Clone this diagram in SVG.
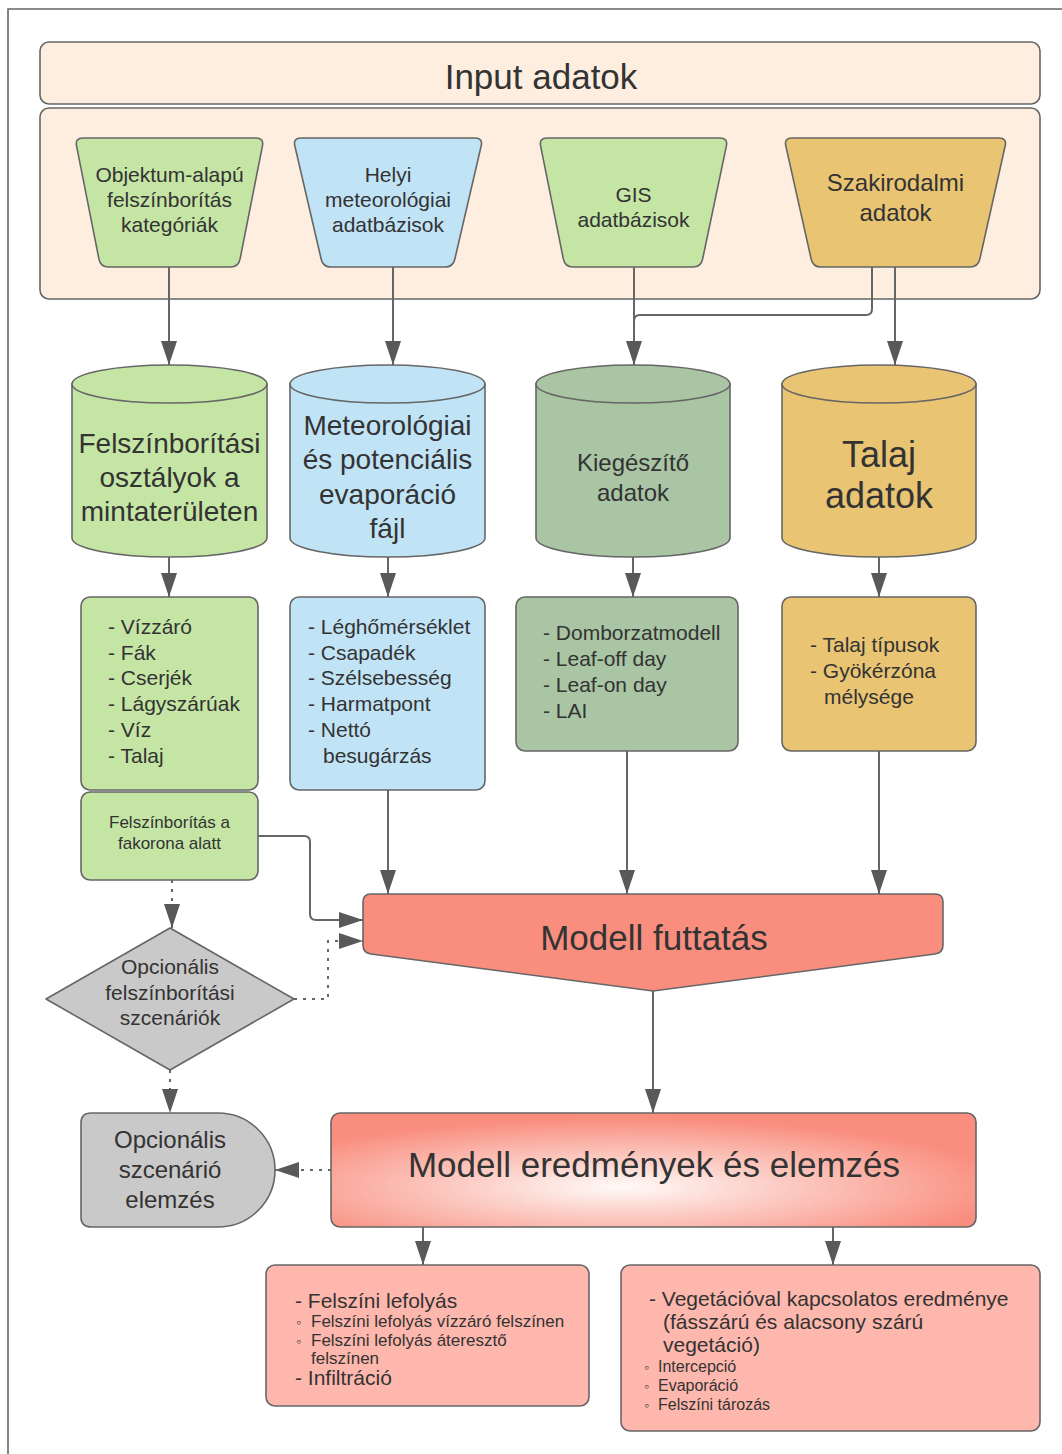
<svg xmlns="http://www.w3.org/2000/svg" width="1062" height="1454" viewBox="0 0 1062 1454">
<defs>
<style>
text{font-family:"Liberation Sans",Arial,"DejaVu Sans",sans-serif;fill:#333;}
.c{text-anchor:middle;}
.sh{stroke:#666;stroke-width:1.6;}
.peach{fill:#feeedf;}
.green{fill:#c5e5a5;}
.blue{fill:#c1e3f6;}
.gold{fill:#e9c473;}
.sage{fill:#a9c5a3;}
.grey{fill:#c9c9c9;}
.salmon{fill:#f98e7f;}
.pink{fill:#feb7ad;}
.ln{fill:none;stroke:#666;stroke-width:2;}
.dot{fill:none;stroke:#666;stroke-width:2;stroke-dasharray:3 6;}
.bul{font-size:14px;}
</style>
<marker id="ah" viewBox="0 0 24 16" refX="24" refY="8" markerWidth="24" markerHeight="16" markerUnits="userSpaceOnUse" orient="auto">
<path d="M0,0 L24,8 L0,16 Z" fill="#595959"/>
</marker>
<radialGradient id="rg" cx="0.45" cy="0.65" r="0.6">
<stop offset="0" stop-color="#fffaf8"/>
<stop offset="0.35" stop-color="#fcd3cc"/>
<stop offset="1" stop-color="#f98e7f"/>
</radialGradient>
</defs>
<rect width="1062" height="1454" fill="#fff"/>
<path d="M8,1454 V9 H1062" fill="none" stroke="#666" stroke-width="1.6"/>

<g id="input-header">
<rect x="40" y="42" width="1000" height="62" rx="9" class="peach sh"/>
<text x="541" y="89" class="c" font-size="35">Input adatok</text>
</g>
<g id="input-container">
<rect x="40" y="108" width="1000" height="191" rx="9" class="peach sh"/>
</g>

<g id="src-objektum">
<path d="M83,138 H256 Q264,138 262.45,145.85 L240.05,259.15 Q238.5,267 230.5,267 H108.5 Q100.5,267 98.95,259.15 L76.55,145.85 Q75,138 83,138 Z" class="green sh"/>
<text class="c" font-size="21"><tspan x="169.5" y="182">Objektum-alapú</tspan><tspan x="169.5" y="207">felszínborítás</tspan><tspan x="169.5" y="232">kategóriák</tspan></text>
</g>
<g id="src-helyi">
<path d="M301,138 H475 Q483,138 481.2,145.8 L454.8,259.2 Q453,267 445,267 H331 Q323,267 321.2,259.2 L294.8,145.8 Q293,138 301,138 Z" class="blue sh"/>
<text class="c" font-size="21"><tspan x="388" y="182">Helyi</tspan><tspan x="388" y="207">meteorológiai</tspan><tspan x="388" y="232">adatbázisok</tspan></text>
</g>
<g id="src-gis">
<path d="M547,138 H720 Q728,138 726.4,145.85 L702.6,259.15 Q701,267 693,267 H573 Q565,267 563.4,259.15 L540.6,145.85 Q539,138 547,138 Z" class="green sh"/>
<text class="c" font-size="21"><tspan x="633.5" y="202">GIS</tspan><tspan x="633.5" y="227">adatbázisok</tspan></text>
</g>
<g id="src-szak">
<path d="M792,138 H999 Q1007,138 1005.2,145.8 L979.8,259.2 Q978,267 970,267 H821 Q813,267 811.2,259.2 L785.8,145.8 Q784,138 792,138 Z" class="gold sh"/>
<text class="c" font-size="24"><tspan x="895.5" y="191">Szakirodalmi</tspan><tspan x="895.5" y="221">adatok</tspan></text>
</g>

<g id="cyl-felszin">
<path d="M72,384 V538 A97.5,19 0 0 0 267,538 V384 Z" class="green sh"/>
<ellipse cx="169.5" cy="384" rx="97.5" ry="19" class="green sh"/>
<text class="c" font-size="28"><tspan x="169.5" y="453">Felszínborítási</tspan><tspan x="169.5" y="487">osztályok a</tspan><tspan x="169.5" y="521">mintaterületen</tspan></text>
</g>
<g id="cyl-meteo">
<path d="M290,384 V538 A97.5,19 0 0 0 485,538 V384 Z" class="blue sh"/>
<ellipse cx="387.5" cy="384" rx="97.5" ry="19" class="blue sh"/>
<text class="c" font-size="28"><tspan x="387.5" y="435">Meteorológiai</tspan><tspan x="387.5" y="469">és potenciális</tspan><tspan x="387.5" y="504">evaporáció</tspan><tspan x="387.5" y="538">fájl</tspan></text>
</g>
<g id="cyl-kieg">
<path d="M536,384 V538 A97,19 0 0 0 730,538 V384 Z" class="sage sh"/>
<ellipse cx="633" cy="384" rx="97" ry="19" class="sage sh"/>
<text class="c" font-size="24"><tspan x="633" y="471">Kiegészítő</tspan><tspan x="633" y="501">adatok</tspan></text>
</g>
<g id="cyl-talaj">
<path d="M782,384 V538 A97,19 0 0 0 976,538 V384 Z" class="gold sh"/>
<ellipse cx="879" cy="384" rx="97" ry="19" class="gold sh"/>
<text class="c" font-size="36"><tspan x="879" y="467">Talaj</tspan><tspan x="879" y="508">adatok</tspan></text>
</g>

<g id="list-felszin">
<rect x="81" y="597" width="177" height="193" rx="9" class="green sh"/>
<text font-size="21"><tspan x="108" y="634">- Vízzáró</tspan><tspan x="108" y="660">- Fák</tspan><tspan x="108" y="685">- Cserjék</tspan><tspan x="108" y="711">- Lágyszárúak</tspan><tspan x="108" y="737">- Víz</tspan><tspan x="108" y="763">- Talaj</tspan></text>
</g>
<g id="box-fakorona">
<rect x="81" y="792" width="177" height="88" rx="9" class="green sh"/>
<text class="c" font-size="17"><tspan x="169.5" y="828">Felszínborítás a</tspan><tspan x="169.5" y="849">fakorona alatt</tspan></text>
</g>
<g id="list-meteo">
<rect x="290" y="597" width="195" height="193" rx="9" class="blue sh"/>
<text font-size="21"><tspan x="308" y="634">- Léghőmérséklet</tspan><tspan x="308" y="660">- Csapadék</tspan><tspan x="308" y="685">- Szélsebesség</tspan><tspan x="308" y="711">- Harmatpont</tspan><tspan x="308" y="737">- Nettó</tspan><tspan x="323" y="763">besugárzás</tspan></text>
</g>
<g id="list-kieg">
<rect x="516" y="597" width="222" height="154" rx="9" class="sage sh"/>
<text font-size="21"><tspan x="543" y="640">- Domborzatmodell</tspan><tspan x="543" y="666">- Leaf-off day</tspan><tspan x="543" y="692">- Leaf-on day</tspan><tspan x="543" y="718">- LAI</tspan></text>
</g>
<g id="list-talaj">
<rect x="782" y="597" width="194" height="154" rx="9" class="gold sh"/>
<text font-size="21"><tspan x="810" y="652">- Talaj típusok</tspan><tspan x="810" y="678">- Gyökérzóna</tspan><tspan x="824" y="704">mélysége</tspan></text>
</g>

<g id="modell-futtatas">
<path d="M371,894 H935 Q943,894 943,902 V945 Q943,953 935,954 L653,991 L371,954 Q363,953 363,945 V902 Q363,894 371,894 Z" class="salmon sh"/>
<text x="654" y="950" class="c" font-size="35">Modell futtatás</text>
</g>
<g id="opc-felszin">
<path d="M46,999 L170,928 L294,999 L170,1070 Z" class="grey sh" stroke-linejoin="round"/>
<text class="c" font-size="21"><tspan x="170" y="974">Opcionális</tspan><tspan x="170" y="1000">felszínborítási</tspan><tspan x="170" y="1025">szcenáriók</tspan></text>
</g>
<g id="opc-elemzes">
<path d="M91,1113 H218 A57,57 0 0 1 218,1227 H91 Q81,1227 81,1217 V1123 Q81,1113 91,1113 Z" class="grey sh"/>
<text class="c" font-size="24"><tspan x="170" y="1148">Opcionális</tspan><tspan x="170" y="1178">szcenárió</tspan><tspan x="170" y="1208">elemzés</tspan></text>
</g>
<g id="modell-eredmenyek">
<rect x="331" y="1113" width="645" height="114" rx="9" fill="url(#rg)" class="sh"/>
<text x="654" y="1177" class="c" font-size="35">Modell eredmények és elemzés</text>
</g>
<g id="res-lefolyas">
<rect x="266" y="1265" width="323" height="141" rx="9" class="pink sh"/>
<text font-size="21" x="295" y="1308">- Felszíni lefolyás</text>
<text font-size="17"><tspan x="296" y="1327" class="bul">◦</tspan><tspan x="311" y="1327">Felszíni lefolyás vízzáró felszínen</tspan></text>
<text font-size="17"><tspan x="296" y="1346" class="bul">◦</tspan><tspan x="311" y="1346">Felszíni lefolyás áteresztő</tspan></text>
<text font-size="17" x="311" y="1364">felszínen</text>
<text font-size="21" x="295" y="1385">- Infiltráció</text>
</g>
<g id="res-vegetacio">
<rect x="621" y="1265" width="419" height="166" rx="9" class="pink sh"/>
<text font-size="21"><tspan x="649" y="1306">- Vegetációval kapcsolatos eredménye</tspan><tspan x="663" y="1329">(fásszárú és alacsony szárú</tspan><tspan x="663" y="1352">vegetáció)</tspan></text>
<text font-size="16"><tspan x="644" y="1372" class="bul">◦</tspan><tspan x="658" y="1372">Intercepció</tspan></text>
<text font-size="16"><tspan x="644" y="1391" class="bul">◦</tspan><tspan x="658" y="1391">Evaporáció</tspan></text>
<text font-size="16"><tspan x="644" y="1410" class="bul">◦</tspan><tspan x="658" y="1410">Felszíni tározás</tspan></text>
</g>

<g id="connectors">
<path d="M169,267 V365" class="ln" marker-end="url(#ah)"/>
<path d="M393,267 V365" class="ln" marker-end="url(#ah)"/>
<path d="M634,267 V365" class="ln" marker-end="url(#ah)"/>
<path d="M895,267 V365" class="ln" marker-end="url(#ah)"/>
<path d="M872,267 V309 Q872,315 866,315 H640 Q634,315 634,321 V330" class="ln"/>
<path d="M169,557 V597" class="ln" marker-end="url(#ah)"/>
<path d="M388,557 V597" class="ln" marker-end="url(#ah)"/>
<path d="M633,557 V597" class="ln" marker-end="url(#ah)"/>
<path d="M879,557 V597" class="ln" marker-end="url(#ah)"/>
<path d="M388,790 V894" class="ln" marker-end="url(#ah)"/>
<path d="M627,751 V894" class="ln" stroke-width="3" marker-end="url(#ah)"/>
<path d="M879,751 V894" class="ln" stroke-width="1.5" marker-end="url(#ah)"/>
<path d="M258,836 H304 Q310,836 310,842 V914 Q310,920 316,920 H363" class="ln" marker-end="url(#ah)"/>
<path d="M294,999 H328 V941 H363" class="dot" marker-end="url(#ah)"/>
<path d="M172,880 V928" class="dot" marker-end="url(#ah)"/>
<path d="M170,1070 V1113" class="dot" marker-end="url(#ah)"/>
<path d="M653,991 V1113" class="ln" marker-end="url(#ah)"/>
<path d="M331,1170 H275" class="dot" marker-end="url(#ah)"/>
<path d="M423,1227 V1265" class="ln" marker-end="url(#ah)"/>
<path d="M833,1227 V1265" class="ln" marker-end="url(#ah)"/>
</g>
</svg>
